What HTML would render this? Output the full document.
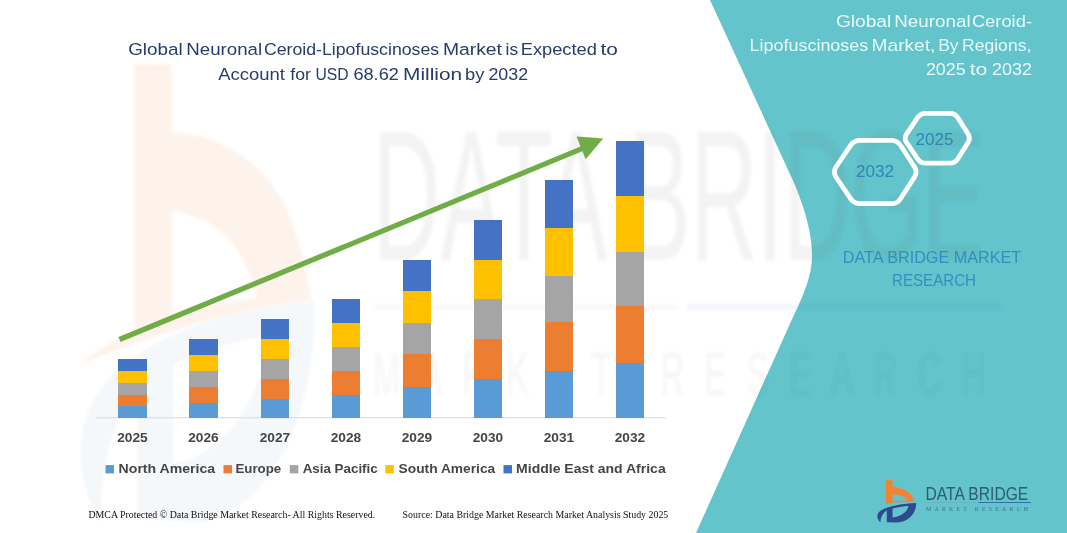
<!DOCTYPE html>
<html lang="en">
<head>
<meta charset="utf-8">
<title>Global Neuronal Ceroid-Lipofuscinoses Market</title>
<style>
  html, body { margin: 0; padding: 0; background: #ffffff; }
  body { width: 1067px; height: 533px; overflow: hidden; }
  svg { display: block; }
  .sans { font-family: "Liberation Sans", sans-serif; }
  .serif { font-family: "Liberation Serif", serif; }
</style>
</head>
<body>
<svg width="1067" height="533" viewBox="0 0 1067 533">
  <defs>
    <path id="icoO" fill="#f58232" fill-rule="evenodd" d="M15.8,6.3 L22.6,6.3 L22.6,13.1 C32,13.3 42.5,18 44.3,27.8 C35,27.6 24,28.2 15.8,30 Z M22.6,20.3 C30,20.6 35.5,23 37.8,26.4 C32,26.5 27,26.8 22.6,27.3 Z"/>
    <path id="icoB" fill="#2f4a8c" fill-rule="evenodd" d="M46.2,28.9 C34,29.5 18,31.5 10.5,36.8 C6.3,40 6.3,44.5 10.5,48.6 C10.5,43 13,39 16.8,36.5 L16.8,48.2 L27,48.6 C39,47.5 46.5,39 46.2,28.9 Z M22.6,34.5 C27,33.3 33,32.3 38.4,32 C38,37 31.5,42.8 22.6,43.4 Z"/>
    <filter id="wb" x="-5%" y="-5%" width="110%" height="110%"><feGaussianBlur stdDeviation="0.25 0.12"/></filter>
    <filter id="wb2" x="-5%" y="-5%" width="110%" height="110%"><feGaussianBlur stdDeviation="1.5"/></filter>
  </defs>

  <!-- teal background -->
  <rect x="0" y="0" width="1067" height="533" fill="#63c4cb"/>

  <!-- white panel with rounded tip -->
  <path fill="#ffffff" d="M-20,-20 L700.8,-20 L710,0 L795,185 C806,212 812,235 812,256 C812,276 803,296 793,317 L696,533 L687,553 L-20,553 Z"/>

  <!-- faint watermark -->
  <path opacity="0.09" fill="#f58232" fill-rule="evenodd" filter="url(#wb2)" d="M134,64 L172,64 L172,132 C220,134 266,162 288,212 C300,241 307,273 312,300 C285,303 235,312 172,331 C150,338 110,352 79,366 C95,350 115,339 134,332 Z M172,212 C198,214 218,226 232,243 C246,262 254,282 257,298 C230,301 200,306 172,313 Z"/>
  <g transform="translate(37,-22) scale(6.0,11.2)" filter="url(#wb)">
    <use href="#icoB" opacity="0.045"/>
    <g opacity="0.075">
      <text class="sans" x="56" y="25.2" font-size="16.6" fill="#555" textLength="102" lengthAdjust="spacingAndGlyphs">DATA BRIDGE</text>
      <rect x="56" y="29.15" width="51" height="0.45" fill="#d8a080"/>
      <rect x="108.4" y="29.15" width="52.6" height="0.45" fill="#4472c4"/>
    </g>
    <text class="sans" opacity="0.05" x="56" y="37.25" font-size="5.4" fill="#555" textLength="102" lengthAdjust="spacing">MARKET RESEARCH</text>
  </g>

  <!-- chart title -->
  <g class="sans" font-size="16.8">
    <text y="55.2" fill="#263d6c"><tspan x="128.2" textLength="54.5" lengthAdjust="spacingAndGlyphs">Global</tspan> <tspan x="186.3" textLength="75.8" lengthAdjust="spacingAndGlyphs">Neuronal</tspan> <tspan x="263.9" textLength="175.3" lengthAdjust="spacingAndGlyphs">Ceroid-Lipofuscinoses</tspan> <tspan x="442.9" textLength="59.0" lengthAdjust="spacingAndGlyphs">Market</tspan> <tspan x="505.6" textLength="12.5" lengthAdjust="spacingAndGlyphs">is</tspan> <tspan x="520.7" textLength="76.2" lengthAdjust="spacingAndGlyphs">Expected</tspan> <tspan x="600.5" textLength="17.4" lengthAdjust="spacingAndGlyphs">to</tspan></text>
    <text y="79.5" fill="#263d6c"><tspan x="218.3" textLength="66.6" lengthAdjust="spacingAndGlyphs">Account</tspan> <tspan x="290.3" textLength="20.7" lengthAdjust="spacingAndGlyphs">for</tspan> <tspan x="315.5" textLength="33.2" lengthAdjust="spacingAndGlyphs">USD</tspan> <tspan x="353.4" textLength="45.5" lengthAdjust="spacingAndGlyphs">68.62</tspan> <tspan x="403.1" textLength="59.1" lengthAdjust="spacingAndGlyphs">Million</tspan> <tspan x="465.0" textLength="19.3" lengthAdjust="spacingAndGlyphs">by</tspan> <tspan x="488.4" textLength="39.7" lengthAdjust="spacingAndGlyphs">2032</tspan></text>
  </g>

  <!-- axis -->
  <rect x="96" y="417.3" width="570" height="1" fill="#d9d9d9"/>

  <!-- bars -->
  <g shape-rendering="crispEdges">
    <!-- 2025 -->
    <rect x="118" y="359" width="29" height="12" fill="#4472c4"/>
    <rect x="118" y="371" width="29" height="12" fill="#ffc000"/>
    <rect x="118" y="383" width="29" height="11.5" fill="#a5a5a5"/>
    <rect x="118" y="394.5" width="29" height="11.5" fill="#ed7d31"/>
    <rect x="118" y="406" width="29" height="11.5" fill="#5b9bd5"/>
    <!-- 2026 -->
    <rect x="189" y="338.7" width="29" height="15.8" fill="#4472c4"/>
    <rect x="189" y="354.5" width="29" height="16.7" fill="#ffc000"/>
    <rect x="189" y="371.2" width="29" height="15.3" fill="#a5a5a5"/>
    <rect x="189" y="386.5" width="29" height="16.2" fill="#ed7d31"/>
    <rect x="189" y="402.7" width="29" height="14.8" fill="#5b9bd5"/>
    <!-- 2027 -->
    <rect x="261" y="318.7" width="28" height="20" fill="#4472c4"/>
    <rect x="261" y="338.7" width="28" height="20.5" fill="#ffc000"/>
    <rect x="261" y="359.2" width="28" height="19.3" fill="#a5a5a5"/>
    <rect x="261" y="378.5" width="28" height="20.5" fill="#ed7d31"/>
    <rect x="261" y="399" width="28" height="18.5" fill="#5b9bd5"/>
    <!-- 2028 -->
    <rect x="332" y="298.7" width="28" height="23.8" fill="#4472c4"/>
    <rect x="332" y="322.5" width="28" height="24.4" fill="#ffc000"/>
    <rect x="332" y="346.9" width="28" height="23.6" fill="#a5a5a5"/>
    <rect x="332" y="370.5" width="28" height="24.3" fill="#ed7d31"/>
    <rect x="332" y="394.8" width="28" height="22.7" fill="#5b9bd5"/>
    <!-- 2029 -->
    <rect x="403" y="260" width="28" height="30.5" fill="#4472c4"/>
    <rect x="403" y="290.5" width="28" height="32.3" fill="#ffc000"/>
    <rect x="403" y="322.8" width="28" height="31.4" fill="#a5a5a5"/>
    <rect x="403" y="354.2" width="28" height="32.4" fill="#ed7d31"/>
    <rect x="403" y="386.6" width="28" height="30.9" fill="#5b9bd5"/>
    <!-- 2030 -->
    <rect x="474" y="219.8" width="28" height="40.2" fill="#4472c4"/>
    <rect x="474" y="260" width="28" height="38.8" fill="#ffc000"/>
    <rect x="474" y="298.8" width="28" height="39.7" fill="#a5a5a5"/>
    <rect x="474" y="338.5" width="28" height="40" fill="#ed7d31"/>
    <rect x="474" y="378.5" width="28" height="39" fill="#5b9bd5"/>
    <!-- 2031 -->
    <rect x="545" y="180" width="28" height="48" fill="#4472c4"/>
    <rect x="545" y="228" width="28" height="47.8" fill="#ffc000"/>
    <rect x="545" y="275.8" width="28" height="46.6" fill="#a5a5a5"/>
    <rect x="545" y="322.4" width="28" height="48.1" fill="#ed7d31"/>
    <rect x="545" y="370.5" width="28" height="47" fill="#5b9bd5"/>
    <!-- 2032 -->
    <rect x="616" y="141" width="28" height="54.8" fill="#4472c4"/>
    <rect x="616" y="195.8" width="28" height="56.4" fill="#ffc000"/>
    <rect x="616" y="252.2" width="28" height="53.8" fill="#a5a5a5"/>
    <rect x="616" y="306" width="28" height="56.5" fill="#ed7d31"/>
    <rect x="616" y="362.5" width="28" height="55" fill="#5b9bd5"/>
  </g>

  <!-- trend arrow -->
  <line x1="119.5" y1="339.5" x2="588" y2="146.2" stroke="#70ad47" stroke-width="5.2"/>
  <polygon points="603.3,138.4 576.5,136.6 585.6,159.2" fill="#70ad47"/>

  <!-- category labels -->
  <g class="sans" font-size="13.1" font-weight="bold" fill="#454545" text-anchor="middle">
    <text x="132.5" y="442.4" textLength="30.5" lengthAdjust="spacingAndGlyphs">2025</text>
    <text x="203.5" y="442.4" textLength="30.5" lengthAdjust="spacingAndGlyphs">2026</text>
    <text x="275" y="442.4" textLength="30.5" lengthAdjust="spacingAndGlyphs">2027</text>
    <text x="346" y="442.4" textLength="30.5" lengthAdjust="spacingAndGlyphs">2028</text>
    <text x="417" y="442.4" textLength="30.5" lengthAdjust="spacingAndGlyphs">2029</text>
    <text x="488" y="442.4" textLength="30.5" lengthAdjust="spacingAndGlyphs">2030</text>
    <text x="559" y="442.4" textLength="30.5" lengthAdjust="spacingAndGlyphs">2031</text>
    <text x="630" y="442.4" textLength="30.5" lengthAdjust="spacingAndGlyphs">2032</text>
  </g>

  <!-- legend -->
  <g>
    <rect x="105.5" y="465.1" width="8.5" height="8.3" fill="#5b9bd5"/>
    <rect x="223.5" y="465.1" width="8.5" height="8.3" fill="#ed7d31"/>
    <rect x="289.8" y="465.1" width="8.5" height="8.3" fill="#a5a5a5"/>
    <rect x="385.3" y="465.1" width="8.5" height="8.3" fill="#ffc000"/>
    <rect x="503.5" y="465.1" width="8.5" height="8.3" fill="#4472c4"/>
  </g>
  <g class="sans" font-size="13.1" font-weight="bold" fill="#454545">
    <text x="118.6" y="473" textLength="96.6" lengthAdjust="spacingAndGlyphs">North America</text>
    <text x="235.4" y="473" textLength="45.8" lengthAdjust="spacingAndGlyphs">Europe</text>
    <text x="302.7" y="473" textLength="75" lengthAdjust="spacingAndGlyphs">Asia Pacific</text>
    <text x="398.6" y="473" textLength="96.6" lengthAdjust="spacingAndGlyphs">South America</text>
    <text x="516.1" y="473" textLength="149.6" lengthAdjust="spacingAndGlyphs">Middle East and Africa</text>
  </g>

  <!-- footer -->
  <g class="serif" font-size="9.8" fill="#111111" style="white-space:pre">
    <text x="88.4" y="518.1" textLength="286.8" lengthAdjust="spacingAndGlyphs">DMCA Protected © Data Bridge Market Research-  All Rights Reserved.</text>
    <text x="402.6" y="518.1" textLength="265.7" lengthAdjust="spacingAndGlyphs">Source: Data Bridge Market Research  Market Analysis Study 2025</text>
  </g>

  <!-- right panel heading -->
  <g class="sans" font-size="16.8">
    <text y="27.1" fill="#e6fbfb"><tspan x="835.9" textLength="55.4" lengthAdjust="spacingAndGlyphs">Global</tspan> <tspan x="894.3" textLength="76.3" lengthAdjust="spacingAndGlyphs">Neuronal</tspan> <tspan x="971.9" textLength="60.1" lengthAdjust="spacingAndGlyphs">Ceroid-</tspan></text>
    <text y="51.0" fill="#e6fbfb"><tspan x="749.5" textLength="118.8" lengthAdjust="spacingAndGlyphs">Lipofuscinoses</tspan> <tspan x="871.6" textLength="63.7" lengthAdjust="spacingAndGlyphs">Market,</tspan> <tspan x="938.2" textLength="20.4" lengthAdjust="spacingAndGlyphs">By</tspan> <tspan x="962.0" textLength="69.3" lengthAdjust="spacingAndGlyphs">Regions,</tspan></text>
    <text y="74.9" fill="#e6fbfb"><tspan x="925.9" textLength="39.8" lengthAdjust="spacingAndGlyphs">2025</tspan> <tspan x="969.7" textLength="17.7" lengthAdjust="spacingAndGlyphs">to</tspan> <tspan x="991.9" textLength="40.0" lengthAdjust="spacingAndGlyphs">2032</tspan></text>
  </g>

  <!-- hexagons -->
  <g fill="none" stroke="#ffffff" stroke-width="4.8" stroke-linejoin="round">
    <path d="M836.0,177.0 Q832.6,172.0 836.0,167.0 L850.6,145.3 Q854.0,140.3 860.0,140.3 L891.3,140.3 Q897.3,140.3 900.5,145.3 L914.5,167.0 Q917.7,172.0 914.5,177.0 L900.5,198.7 Q897.3,203.7 891.3,203.7 L860.0,203.7 Q854.0,203.7 850.6,198.7 Z"/>
    <path d="M906.5,142.4 Q903.7,138.2 906.5,134.1 L917.7,117.4 Q920.5,113.3 925.5,113.3 L950.0,113.3 Q955.0,113.3 957.7,117.5 L968.1,134.0 Q970.8,138.2 968.1,142.4 L957.7,159.0 Q955.0,163.2 950.0,163.2 L925.5,163.2 Q920.5,163.2 917.7,159.0 Z"/>
  </g>
  <g class="sans" font-size="16.8" fill="#2e86b8" text-anchor="middle">
    <text x="875" y="177.2" textLength="38" lengthAdjust="spacingAndGlyphs">2032</text>
    <text x="934.5" y="145.4" textLength="38" lengthAdjust="spacingAndGlyphs">2025</text>
  </g>

  <!-- brand caption -->
  <g class="sans" font-size="17" fill="#338fbf" text-anchor="middle">
    <text x="932" y="262.6" textLength="178.5" lengthAdjust="spacingAndGlyphs">DATA BRIDGE MARKET</text>
    <text x="934" y="286" textLength="84" lengthAdjust="spacingAndGlyphs">RESEARCH</text>
  </g>

  <!-- logo -->
  <g transform="translate(870,474)">
    <use href="#icoO"/><use href="#icoB"/>
    <text class="sans" x="55.6" y="25.5" font-size="18" fill="#2f5d73" textLength="102.6" lengthAdjust="spacingAndGlyphs">DATA BRIDGE</text>
    <rect x="56" y="28.1" width="50" height="0.7" fill="#8a9aa0" opacity="0.6"/>
    <rect x="108.4" y="28.0" width="52.6" height="0.9" fill="#3560a8"/>
    <text class="serif" x="56" y="37.4" font-size="5.8" fill="#3f7488" textLength="102" lengthAdjust="spacing">MARKET RESEARCH</text>
  </g>
</svg>
</body>
</html>
